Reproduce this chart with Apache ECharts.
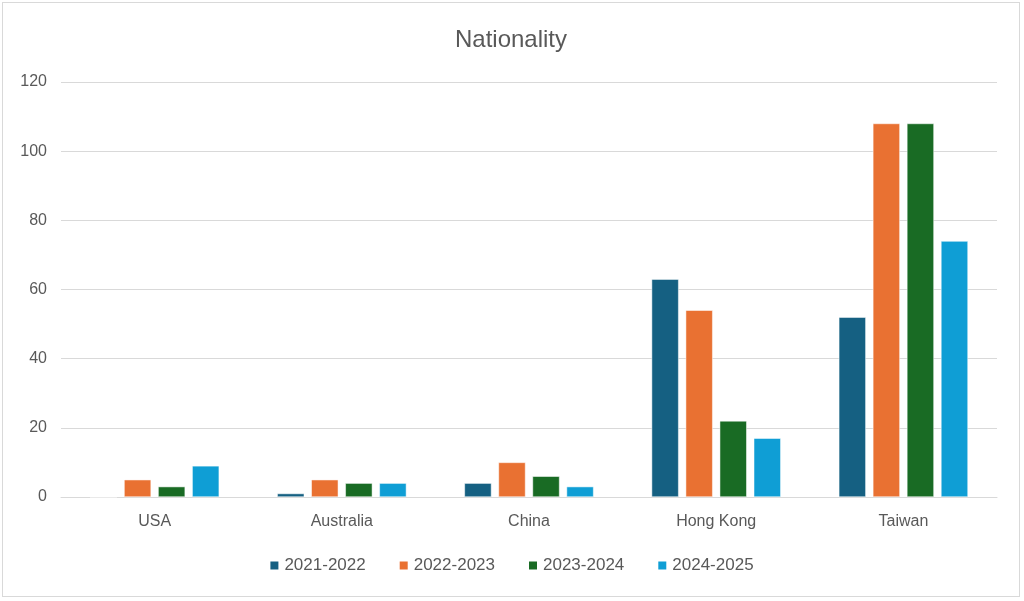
<!DOCTYPE html>
<html>
<head>
<meta charset="utf-8">
<script src="https://cdn.jsdelivr.net/npm/echarts@6/dist/echarts.min.js"></script>
<style>
  html, body { margin: 0; padding: 0; background: #fff; }
  #main {
    position: absolute; left: 2px; top: 2px;
    width: 1018px; height: 595px;
    border: 1px solid #d9d9d9; box-sizing: border-box;
  }
</style>
</head>
<body>
<div id="main"></div>
<script>
// data
const categories = ["USA", "Australia", "China", "Hong Kong", "Taiwan"]
const seasons = ["2021-2022", "2022-2023", "2023-2024", "2024-2025"]
const values2122 = [0, 1, 4, 63, 52]
const values2223 = [5, 5, 10, 54, 108]
const values2324 = [3, 4, 6, 22, 108]
const values2425 = [9, 4, 3, 17, 74]
const yTicks = [0, 20, 40, 60, 80, 100, 120]

const colors = ["#156082", "#E97132", "#196B24", "#0F9ED5"]
const seriesValues = [values2122, values2223, values2324, values2425]
const font = "Liberation Sans"

const chart = echarts.init(document.getElementById("main"))

chart.setOption({
  color: colors,
  animation: false,
  title: {
    text: "Nationality",
    left: "center",
    top: 20,
    textStyle: { fontFamily: font, fontSize: 24, fontWeight: "normal", color: "#595959" }
  },
  legend: {
    bottom: 17,
    left: "center",
    itemWidth: 10,
    itemHeight: 10,
    itemGap: 32,
    icon: "rect",
    textStyle: { fontFamily: font, fontSize: 17, color: "#595959" },
    data: seasons
  },
  grid: { left: 58, right: 22, top: 79, bottom: 99 },
  xAxis: {
    type: "category",
    data: categories,
    axisLine: { lineStyle: { color: "#d9d9d9", width: 1 } },
    axisTick: { show: false },
    axisLabel: { fontFamily: font, fontSize: 16, color: "#595959", margin: 17 }
  },
  yAxis: {
    type: "value",
    min: yTicks[0],
    max: yTicks[yTicks.length - 1],
    interval: 20,
    axisLine: { show: false },
    axisTick: { show: false },
    axisLabel: { fontFamily: font, fontSize: 16, color: "#595959", margin: 14 },
    splitLine: { lineStyle: { color: "#d9d9d9", width: 1 } }
  },
  series: seasons.map((name, i) => ({
    name: name,
    type: "bar",
    data: seriesValues[i],
    barGap: "26%",
    barCategoryGap: "31%",
    itemStyle: { borderColor: "#ffffff", borderWidth: 0.5 }
  }))
})

window.onresize = () => chart.resize()
</script>
</body>
</html>
